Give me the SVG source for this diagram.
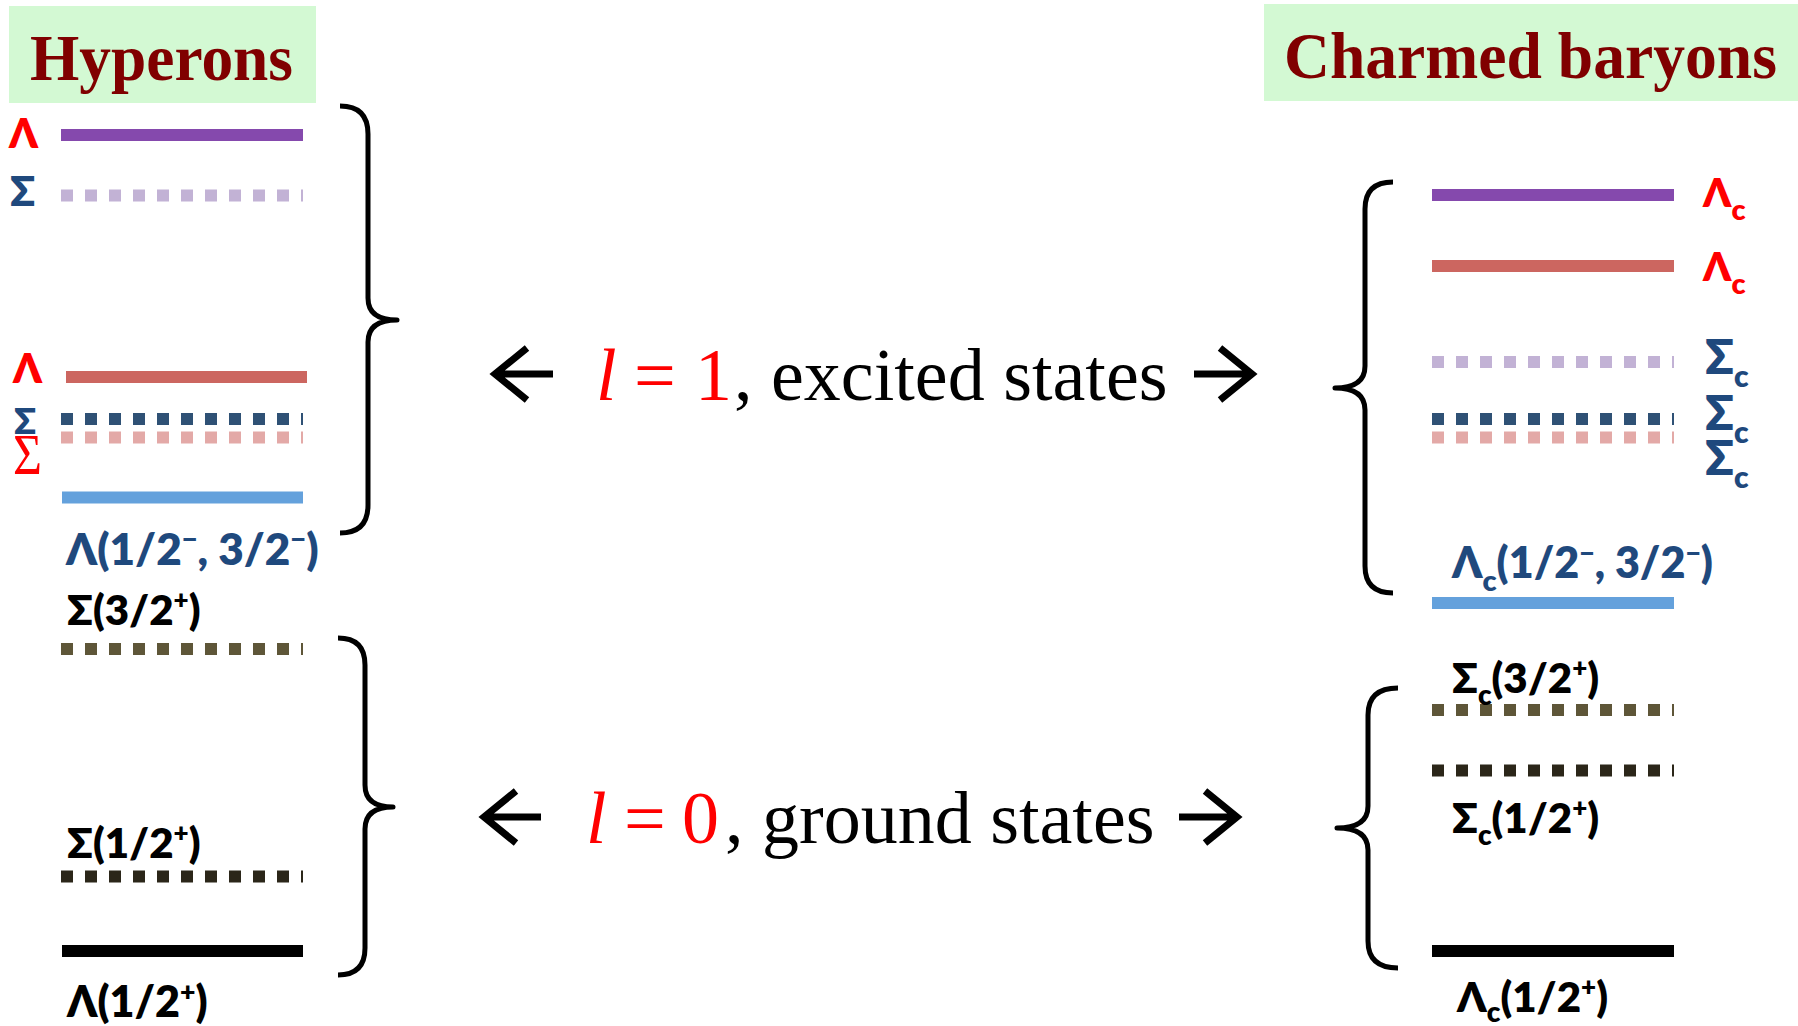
<svg xmlns="http://www.w3.org/2000/svg" width="1798" height="1026" viewBox="0 0 1798 1026">
<style>
.hdr{fill:#d3f9d3}
.title{font-family:"Liberation Serif","Times New Roman",serif;font-weight:bold;fill:#800000;font-size:65px}
.lvl{stroke-width:12;fill:none}
.dot{stroke-dasharray:12 12}
.lbl{font-family:Lato,"Open Sans","Noto Sans",sans-serif;font-weight:800}
.blue{fill:#1f497d}
.red{fill:#ff0000}
.blk{fill:#000}
.sup{font-size:62%}
.mid{font-family:"Liberation Serif","Times New Roman",serif;font-size:74px;fill:#000}
.ital{font-style:italic}
.brace{fill:none;stroke:#000;stroke-width:5;stroke-linecap:butt;stroke-linejoin:round}
.arrow{fill:none;stroke:#000;stroke-width:7;stroke-linecap:butt;stroke-linejoin:miter}
</style>

<g id="header-hyperons">
<rect class="hdr" x="9" y="6" width="307" height="97"/>
<text class="title" x="30" y="80" textLength="263" lengthAdjust="spacingAndGlyphs">Hyperons</text>
</g>
<g id="header-charmed">
<rect class="hdr" x="1264" y="4" width="534" height="97"/>
<text class="title" x="1284" y="78" textLength="493" lengthAdjust="spacingAndGlyphs">Charmed baryons</text>
</g>

<!-- Hyperon levels -->
<g id="hyp-lambda-1">
<line class="lvl" x1="61" y1="135" x2="303" y2="135" stroke="#8549ad"/>
<text class="lbl red" x="9" y="148" font-size="41">Λ</text>
</g>
<g id="hyp-sigma-1">
<line class="lvl dot" x1="61" y1="195.5" x2="303" y2="195.5" stroke="#c2b2d5"/>
<text class="lbl blue" x="10" y="206" font-size="41">Σ</text>
</g>
<g id="hyp-lambda-2">
<line class="lvl" x1="66" y1="377" x2="307" y2="377" stroke="#cc6660"/>
<text class="lbl red" x="13" y="383" font-size="41">Λ</text>
</g>
<g id="hyp-sigma-2">
<line class="lvl dot" x1="61" y1="419" x2="303" y2="419" stroke="#2f5175"/>
<text class="lbl blue" x="14" y="434" font-size="36">Σ</text>
</g>
<g id="hyp-sigma-3">
<line class="lvl dot" x1="61" y1="437.5" x2="303" y2="437.5" stroke="#e3a9a7"/>
<text x="13" y="474" font-family="Liberation Serif, Times New Roman, serif" font-size="58" fill="#ff0000" textLength="29" lengthAdjust="spacingAndGlyphs">Σ</text>
</g>
<g id="hyp-lambda-p">
<line class="lvl" x1="62" y1="497.5" x2="303" y2="497.5" stroke="#64a1dc"/>
<text class="lbl blue" x="66" y="565" font-size="44">Λ(1/2<tspan class="sup" dy="-17">−</tspan><tspan dy="17">, 3/2</tspan><tspan class="sup" dy="-17">−</tspan><tspan dy="17">)</tspan></text>
</g>
<g id="hyp-sigma-32">
<line class="lvl dot" x1="61" y1="649" x2="303" y2="649" stroke="#5e5638"/>
<text class="lbl blk" x="67" y="625" font-size="42">Σ(3/2<tspan class="sup" dy="-16">+</tspan><tspan dy="16">)</tspan></text>
</g>
<g id="hyp-sigma-12">
<line class="lvl dot" x1="61" y1="876.5" x2="303" y2="876.5" stroke="#2b2619"/>
<text class="lbl blk" x="67" y="858" font-size="42">Σ(1/2<tspan class="sup" dy="-16">+</tspan><tspan dy="16">)</tspan></text>
</g>
<g id="hyp-lambda-12">
<line class="lvl" x1="62" y1="951" x2="303" y2="951" stroke="#000"/>
<text class="lbl blk" x="67" y="1017" font-size="43">Λ(1/2<tspan class="sup" dy="-16">+</tspan><tspan dy="16">)</tspan></text>
</g>

<!-- Charmed levels -->
<g id="ch-lambda-1">
<line class="lvl" x1="1432" y1="195" x2="1674" y2="195" stroke="#8549ad"/>
<text class="lbl red" x="1703" y="207" font-size="40">Λ<tspan font-size="29" dy="13">c</tspan></text>
</g>
<g id="ch-lambda-2">
<line class="lvl" x1="1432" y1="266" x2="1674" y2="266" stroke="#cc6660"/>
<text class="lbl red" x="1703" y="281" font-size="40">Λ<tspan font-size="29" dy="13">c</tspan></text>
</g>
<g id="ch-sigma-1">
<line class="lvl dot" x1="1432" y1="362" x2="1674" y2="362" stroke="#c2b2d5"/>
<text class="lbl blue" x="1705" y="374" font-size="47">Σ<tspan font-size="30" dy="13">c</tspan></text>
</g>
<g id="ch-sigma-2">
<line class="lvl dot" x1="1432" y1="419" x2="1674" y2="419" stroke="#2f5175"/>
<text class="lbl blue" x="1705" y="430" font-size="47">Σ<tspan font-size="30" dy="13">c</tspan></text>
</g>
<g id="ch-sigma-3">
<line class="lvl dot" x1="1432" y1="437.5" x2="1674" y2="437.5" stroke="#e3a9a7"/>
<text class="lbl blue" x="1705" y="475" font-size="47">Σ<tspan font-size="30" dy="13">c</tspan></text>
</g>
<g id="ch-lambda-p">
<line class="lvl" x1="1432" y1="603" x2="1674" y2="603" stroke="#64a1dc"/>
<text class="lbl blue" x="1452" y="578" font-size="43">Λ<tspan font-size="29" dy="13">c</tspan><tspan dy="-13">(1/2</tspan><tspan class="sup" dy="-16">−</tspan><tspan dy="16">, 3/2</tspan><tspan class="sup" dy="-16">−</tspan><tspan dy="16">)</tspan></text>
</g>
<g id="ch-sigma-32">
<line class="lvl dot" x1="1432" y1="710" x2="1674" y2="710" stroke="#5e5638"/>
<text class="lbl blk" x="1452" y="693" font-size="42">Σ<tspan font-size="28" dy="12">c</tspan><tspan dy="-12">(3/2</tspan><tspan class="sup" dy="-16">+</tspan><tspan dy="16">)</tspan></text>
</g>
<g id="ch-sigma-12">
<line class="lvl dot" x1="1432" y1="770.5" x2="1674" y2="770.5" stroke="#2b2619"/>
<text class="lbl blk" x="1452" y="833" font-size="42">Σ<tspan font-size="28" dy="12">c</tspan><tspan dy="-12">(1/2</tspan><tspan class="sup" dy="-16">+</tspan><tspan dy="16">)</tspan></text>
</g>
<g id="ch-lambda-12">
<line class="lvl" x1="1432" y1="951" x2="1674" y2="951" stroke="#000"/>
<text class="lbl blk" x="1457" y="1012" font-size="42">Λ<tspan font-size="28" dy="10">c</tspan><tspan dy="-10">(1/2</tspan><tspan class="sup" dy="-16">+</tspan><tspan dy="16">)</tspan></text>
</g>

<!-- Middle captions -->
<g id="caption-excited">
<text class="mid" y="400"><tspan x="596" class="red ital">l</tspan><tspan x="634" class="red">=</tspan><tspan x="695" class="red">1</tspan><tspan x="734">, excited states</tspan></text>
</g>
<g id="caption-ground">
<text class="mid" y="843"><tspan x="586" class="red ital">l</tspan><tspan x="624" class="red">=</tspan><tspan x="682" class="red">0</tspan><tspan x="725">, ground states</tspan></text>
</g>

<g id="connectors">
<path class="brace" d="M340,106 Q368,106 368,134 L368,298 Q368,320 397,320 Q368,320 368,342 L368,505 Q368,533 340,533"/>
<path class="brace" d="M338,638 Q365,638 365,665 L365,785 Q365,807 393,807 Q365,807 365,829 L365,948 Q365,975 338,975"/>
<path class="brace" d="M1393,182 Q1365,182 1365,209 L1365,366 Q1365,388 1335,388 Q1365,388 1365,410 L1365,566 Q1365,593 1393,593"/>
<path class="brace" d="M1398,688 Q1368,688 1368,715 L1368,806 Q1368,828 1337,828 Q1368,828 1368,850 L1368,941 Q1368,968 1398,968"/>
<path class="arrow" d="M527,348 L495,374 L527,400 M495,374 L553,374"/>
<path class="arrow" d="M1220,348 L1252,374 L1220,400 M1252,374 L1194,374"/>
<path class="arrow" d="M516,791 L484,817 L516,843 M484,817 L541,817"/>
<path class="arrow" d="M1205,791 L1237,817 L1205,843 M1237,817 L1179,817"/>
</g>
</svg>
